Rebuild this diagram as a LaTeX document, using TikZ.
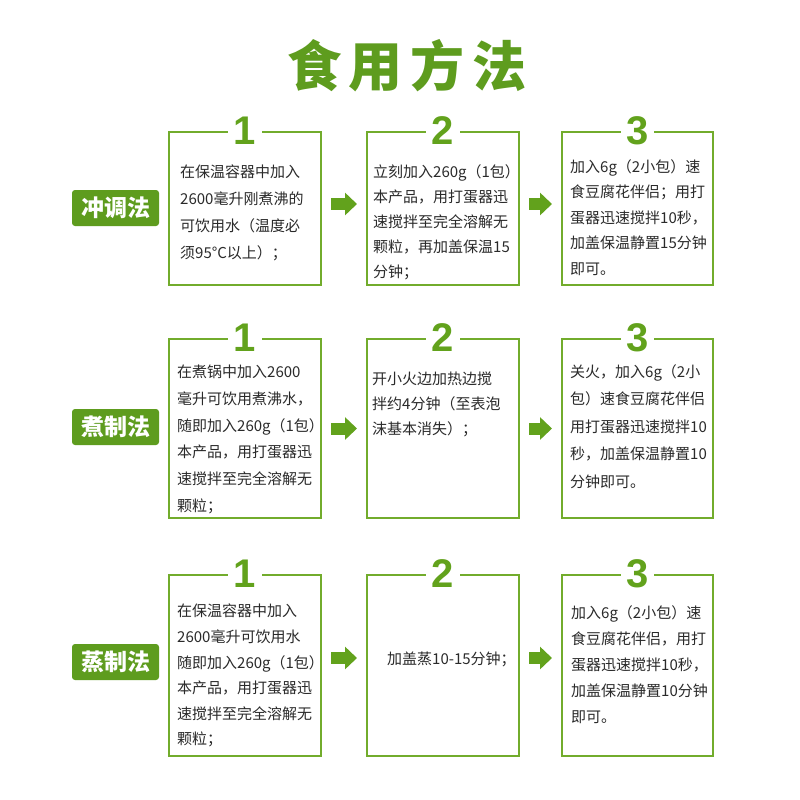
\documentclass[tikz,border=0pt]{standalone}
\usepackage{fontspec}
\usetikzlibrary{arrows.meta}
\newfontfamily\cjk{Noto Sans CJK SC}
\newfontfamily\cjkblack{Noto Sans CJK SC Black}
\newfontfamily\numfont{Liberation Sans}
\definecolor{gborder}{HTML}{72AC2C}
\definecolor{gfill}{HTML}{5E9C1E}
\definecolor{gnum}{HTML}{62A21C}
\definecolor{txtc}{HTML}{2A2A2A}
\tikzset{
  stepbox/.style={draw=gborder, line width=2pt, fill=none, inner sep=0pt},
  txt/.style={font=\cjk\fontsize{15}{#1}\selectfont, text=txtc, align=left, anchor=north west, inner sep=0pt},
  lab/.style={fill=gfill, rounded corners=3pt, minimum width=87pt, minimum height=36pt, inner sep=0pt,
    text=white, font=\cjk\bfseries\fontsize{23}{23}\selectfont},
  num/.style={fill=white, text=gnum, font=\numfont\bfseries\fontsize{40}{40}\selectfont, inner xsep=5.5pt, inner ysep=0pt},
  arr/.style={draw=gnum, line width=12pt, shorten <=9pt, shorten >=9pt,
    -{Triangle[length=12pt 0 0, width=22pt 0 0]}},
  title/.style={text=gfill, font=\cjkblack\fontsize{54}{54}\selectfont, inner sep=0pt}
}
\begin{document}
\begin{tikzpicture}[x=1pt,y=-1pt]
\useasboundingbox[fill=white] (0,0) rectangle (800,800);

\node[title] (t) at (407,66) {食\hspace{8pt}用\hspace{8pt}方\hspace{8pt}法};

% row 1
\node[lab] (l1) at (115.5,208) {冲调法};
\node[stepbox, minimum width=152pt, minimum height=153pt] (r1b1) at (245,208.5) {};
\node[stepbox, minimum width=152pt, minimum height=153pt] (r1b2) at (443,208.5) {};
\node[stepbox, minimum width=151pt, minimum height=153pt] (r1b3) at (637.5,208.5) {};
\node[num] (n11) at ([yshift=0.5pt]r1b1.north) {1};
\node[num] (n12) at ([yshift=0.5pt]r1b2.north) {2};
\node[num] (n13) at ([yshift=0.5pt]r1b3.north) {3};
\node[txt=26.7] (x11) at (180,165) {在保温容器中加入\\2600毫升刚煮沸的\\可饮用水（温度必\\须95°C以上）；};
\node[txt=25.2] (x12) at (373,164) {立刻加入260g（1包）\\本产品，用打蛋器迅\\速搅拌至完全溶解无\\颗粒，再加盖保温15\\分钟；};
\node[txt=25.6] (x13) at (570,159) {加入6g（2小包）速\\食豆腐花伴侣；用打\\蛋器迅速搅拌10秒，\\加盖保温静置15分钟\\即可。};
\draw[arr] ([yshift=4.5pt]r1b1.east) -- ([yshift=4.5pt]r1b2.west);
\draw[arr] ([yshift=4.5pt]r1b2.east) -- ([yshift=4.5pt]r1b3.west);

% row 2
\node[lab] (l2) at (115.5,427) {煮制法};
\node[stepbox, minimum width=152pt, minimum height=179pt] (r2b1) at (245,428.5) {};
\node[stepbox, minimum width=152pt, minimum height=179pt] (r2b2) at (443,428.5) {};
\node[stepbox, minimum width=151pt, minimum height=179pt] (r2b3) at (637.5,428.5) {};
\node[num] (n21) at (r2b1.north) {1};
\node[num] (n22) at (r2b2.north) {2};
\node[num] (n23) at (r2b3.north) {3};
\node[txt=26.7] (x21) at (177,365) {在煮锅中加入2600\\毫升可饮用煮沸水，\\随即加入260g（1包）\\本产品，用打蛋器迅\\速搅拌至完全溶解无\\颗粒；};
\node[txt=25] (x22) at (372,372) {开小火边加热边搅\\拌约4分钟（至表泡\\沫基本消失）；};
\node[txt=27.5] (x23) at (570,364) {关火，加入6g（2小\\包）速食豆腐花伴侣\\用打蛋器迅速搅拌10\\秒，加盖保温静置10\\分钟即可。};
\draw[arr] (r2b1.east) -- (r2b2.west);
\draw[arr] (r2b2.east) -- (r2b3.west);

% row 3
\node[lab] (l3) at (115.5,662) {蒸制法};
\node[stepbox, minimum width=152pt, minimum height=181pt] (r3b1) at (245,665) {};
\node[stepbox, minimum width=152pt, minimum height=181pt] (r3b2) at (443,665) {};
\node[stepbox, minimum width=151pt, minimum height=181pt] (r3b3) at (637.5,665) {};
\node[num] (n31) at (r3b1.north) {1};
\node[num] (n32) at (r3b2.north) {2};
\node[num] (n33) at (r3b3.north) {3};
\node[txt=25.6] (x31) at (177,604) {在保温容器中加入\\2600毫升可饮用水\\随即加入260g（1包）\\本产品，用打蛋器迅\\速搅拌至完全溶解无\\颗粒；};
\node[txt=25, anchor=west] (x32) at (387,659) {加盖蒸10-15分钟；};
\node[txt=26] (x33) at (571,605) {加入6g（2小包）速\\食豆腐花伴侣，用打\\蛋器迅速搅拌10秒，\\加盖保温静置10分钟\\即可。};
\draw[arr] ([yshift=7pt]r3b1.east) -- ([yshift=7pt]r3b2.west);
\draw[arr] ([yshift=7pt]r3b2.east) -- ([yshift=7pt]r3b3.west);
\end{tikzpicture}
\end{document}
